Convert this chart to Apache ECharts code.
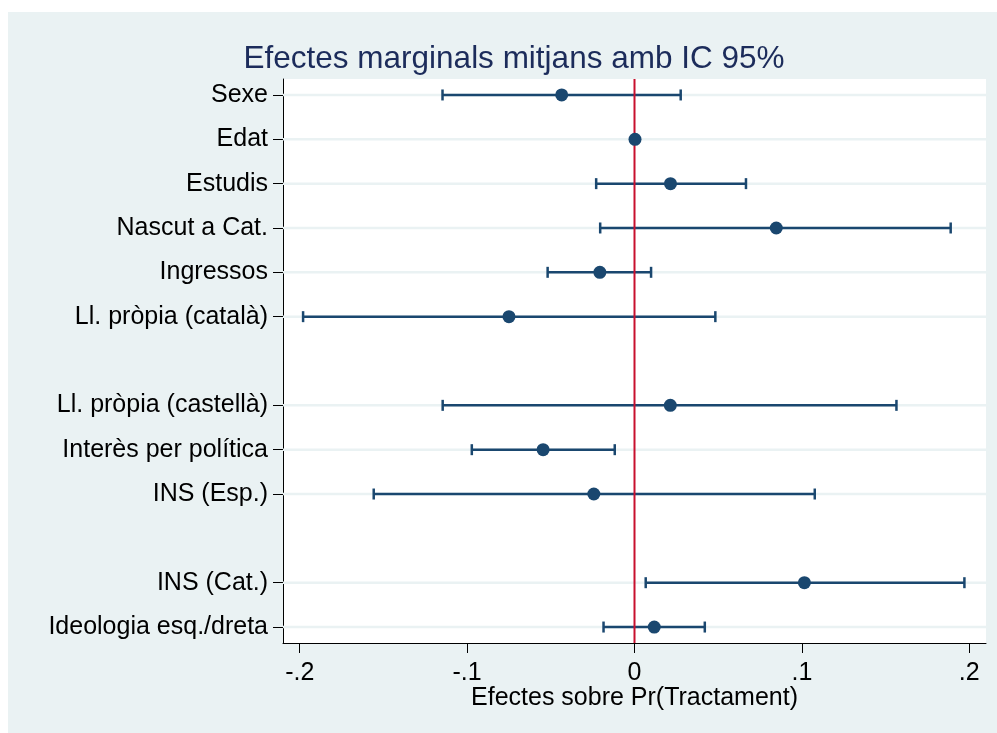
<!DOCTYPE html>
<html><head><meta charset="utf-8">
<script src="https://cdn.jsdelivr.net/npm/echarts@6/dist/echarts.min.js"></script>
<style>html,body{margin:0;padding:0;background:#fff}#c{width:997px;height:733px}</style>
</head><body><div id="c"></div>
<script>
// ---- data ----
const categories = ["Sexe","Edat","Estudis","Nascut a Cat.","Ingressos","Ll. pròpia (català)","","Ll. pròpia (castellà)","Interès per política","INS (Esp.)","","INS (Cat.)","Ideologia esq./dreta"];
const estimate = [-0.0435, 0.0003, 0.0215, 0.0847, -0.0207, -0.0750, null, 0.0214, -0.0546, -0.0243, null, 0.1015, 0.0118];
const lower    = [-0.1147, -0.0005, -0.0229, -0.0205, -0.0519, -0.1980, null, -0.1146, -0.0972, -0.1558, null, 0.0067, -0.0185];
const upper    = [0.0276, 0.0011, 0.0666, 0.1889, 0.0099, 0.0483, null, 0.1565, -0.0118, 0.1077, null, 0.1971, 0.0420];
const xTicks = [-0.2, -0.1, 0, 0.1, 0.2];
const refLine = [0];
const titleText = "Efectes marginals mitjans amb IC 95%";
const xTitle = "Efectes sobre Pr(Tractament)";

// ---- chart ----
const rows = categories.map((c, i) => i).filter(i => categories[i] !== "");
const NAVY = "#1a476f", BG = "#eaf2f3", RED = "#c8102e", GRID = "#eaf2f3";
const FONT = "'Liberation Sans', Arial, sans-serif";
const xMin = -0.21, xMax = 0.21, yMin = -0.36, yMax = 12.36;

const chart = echarts.init(document.getElementById('c'), null, {renderer: 'canvas'});
const lbl = {fontFamily: FONT, fontSize: 25, color: '#000'};

chart.setOption({
  animation: false,
  backgroundColor: '#fff',
  graphic: [{type: 'rect', silent: true, z: -100, shape: {x: 8, y: 12, width: 989, height: 721}, style: {fill: BG}}],
  title: {text: titleText, left: 514, top: 43, textAlign: 'center', padding: 0,
    textStyle: {fontFamily: FONT, fontSize: 31.5, fontWeight: 'normal', color: '#1c2c5b'}},
  grid: {left: 283, top: 79, width: 703, height: 564, show: true, backgroundColor: '#fff', borderWidth: 0},
  xAxis: {
    type: 'value', min: xMin, max: xMax,
    name: xTitle, nameLocation: 'middle', nameGap: 43, nameMoveOverlap: false,
    nameTextStyle: Object.assign({}, lbl),
    axisLine: {show: true, onZero: false, lineStyle: {color: '#000', width: 1}},
    axisTick: {show: true, length: 10, customValues: xTicks, lineStyle: {color: '#000', width: 1}},
    axisLabel: Object.assign({customValues: xTicks, margin: 18, showMinLabel: true, showMaxLabel: true,
      formatter: v => v === 0 ? '0' : String(v).replace('0.', '.')}, lbl),
    splitLine: {show: false}
  },
  yAxis: {
    type: 'value', inverse: true, min: yMin, max: yMax,
    axisLine: {show: true, onZero: false, lineStyle: {color: '#000', width: 1}},
    axisTick: {show: true, length: 10, customValues: rows, lineStyle: {color: '#000', width: 1}},
    axisLabel: Object.assign({customValues: rows, margin: 15, formatter: v => categories[Math.round(v)] || ''}, lbl),
    splitLine: {show: false}
  },
  series: [
    { // horizontal grid lines at each labelled row
      type: 'custom', z: 1, silent: true, encode: {y: 0},
      data: rows.map(i => [i]),
      renderItem: (params, api) => {
        const cs = params.coordSys;
        const y = api.coord([0, api.value(0)])[1];
        return {type: 'line', shape: {x1: cs.x, y1: y, x2: cs.x + cs.width, y2: y},
          style: {stroke: GRID, lineWidth: 2.5}};
      }
    },
    { // confidence intervals
      type: 'custom', z: 2, silent: true, encode: {y: 0, x: [1, 2]},
      data: rows.map(i => [i, lower[i], upper[i]]),
      renderItem: (params, api) => {
        const y = api.value(0);
        const p1 = api.coord([api.value(1), y]), p2 = api.coord([api.value(2), y]);
        const h = 5.5, st = {stroke: NAVY, lineWidth: 2.5};
        return {type: 'group', children: [
          {type: 'line', shape: {x1: p1[0], y1: p1[1], x2: p2[0], y2: p2[1]}, style: st},
          {type: 'line', shape: {x1: p1[0], y1: p1[1] - h, x2: p1[0], y2: p1[1] + h}, style: st},
          {type: 'line', shape: {x1: p2[0], y1: p2[1] - h, x2: p2[0], y2: p2[1] + h}, style: st}
        ]};
      }
    },
    { // reference line at zero
      type: 'custom', z: 3, silent: true, encode: {x: 0},
      data: refLine.map(v => [v]),
      renderItem: (params, api) => {
        const cs = params.coordSys;
        const x = api.coord([api.value(0), 0])[0];
        return {type: 'line', shape: {x1: x, y1: cs.y, x2: x, y2: cs.y + cs.height},
          style: {stroke: RED, lineWidth: 2}};
      }
    },
    { // point estimates
      type: 'scatter', z: 4, silent: true, symbol: 'circle', symbolSize: 13,
      itemStyle: {color: NAVY, opacity: 1},
      data: rows.map(i => [estimate[i], i])
    }
  ]
});
</script></body></html>
